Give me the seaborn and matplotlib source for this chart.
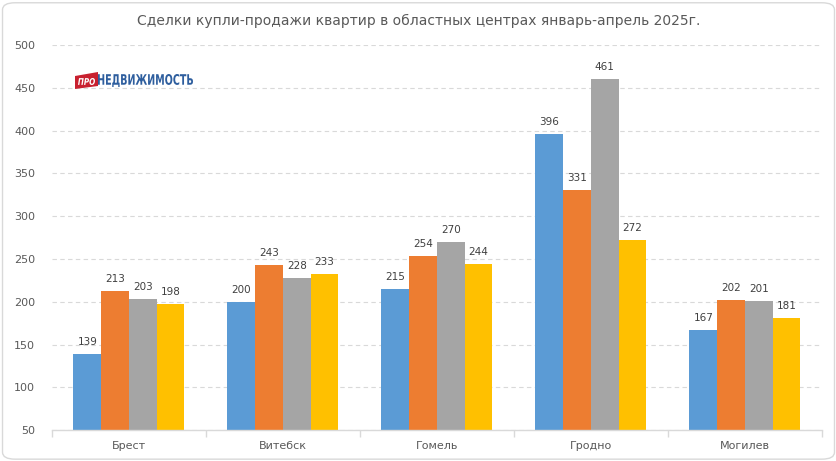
import matplotlib
matplotlib.use("Agg")
import matplotlib.pyplot as plt
import seaborn as sns
import pandas as pd
from matplotlib.patches import FancyBboxPatch, PathPatch, Polygon
from matplotlib.textpath import TextPath
from matplotlib.font_manager import FontProperties
from matplotlib.transforms import Affine2D

cities = ["Брест", "Витебск", "Гомель", "Гродно", "Могилев"]
months = ["Январь", "Февраль", "Март", "Апрель"]
jan = [139, 200, 215, 396, 167]
feb = [213, 243, 254, 331, 202]
mar = [203, 228, 270, 461, 201]
apr = [198, 233, 244, 272, 181]
title = "Сделки купли-продажи квартир в областных центрах январь-апрель 2025г."
yticks = [50, 100, 150, 200, 250, 300, 350, 400, 450, 500]

colors = ["#5B9BD5", "#ED7D31", "#A5A5A5", "#FFC000"]
txt = "#595959"

rows = []
for m, vals in zip(months, [jan, feb, mar, apr]):
    for c, v in zip(cities, vals):
        rows.append({"city": c, "month": m, "value": v})
df = pd.DataFrame(rows)

sns.set_theme(style="white")
plt.rcParams["font.family"] = ["DejaVu Sans"]

W, H = 837, 461
fig = plt.figure(figsize=(W / 100, H / 100), dpi=100)
ax = fig.add_axes([0.062, 0.067, 0.92, 0.835])

sns.barplot(data=df, x="city", y="value", hue="month", order=cities,
            hue_order=months, palette=colors, width=0.72, gap=0,
            saturation=1, ax=ax, legend=False, linewidth=0)

for cont in ax.containers:
    ax.bar_label(cont, padding=5, fontsize=7.5, color="#404040")

ax.set_ylim(50, 500)
ax.set_yticks(yticks)
ax.set_xlim(-0.5, len(cities) - 0.5)
ax.set_xlabel("")
ax.set_ylabel("")
ax.yaxis.grid(True, color="#D9D9D9", linestyle=(0, (4, 3)), linewidth=0.8)
ax.set_axisbelow(True)
for s in ["left", "right", "top"]:
    ax.spines[s].set_visible(False)
ax.spines["bottom"].set_color("#D9D9D9")
ax.spines["bottom"].set_linewidth(1)
ax.tick_params(axis="y", length=0, labelsize=8, colors=txt, pad=12)
ax.tick_params(axis="x", which="major", length=0, labelsize=8, colors=txt, pad=8)
ax.set_xticks([i - 0.5 for i in range(len(cities) + 1)], minor=True)
ax.tick_params(axis="x", which="minor", bottom=True, direction="out",
               length=5, color="#D9D9D9", width=1)

fig.text(0.5, 0.955, title, ha="center", va="center", fontsize=10, color=txt)

# logo (pixel coordinates converted to figure fraction)
px = Affine2D().scale(1 / W, 1 / H) + fig.transFigure


def fit_text(s, x0, y0, x1, y1, color, weight="bold", style="normal"):
    tp = TextPath((0, 0), s, size=1,
                  prop=FontProperties(family="DejaVu Sans", weight=weight, style=style))
    e = tp.get_extents()
    t = (Affine2D().translate(-e.x0, -e.y0)
         .scale((x1 - x0) / e.width, (y1 - y0) / e.height)
         .translate(x0, y0))
    fig.patches.append(PathPatch(t.transform_path(tp), fc=color, ec="none",
                                 transform=px))


red = Polygon([(75, H - 89), (98, H - 86), (98, H - 72), (75, H - 76)],
              closed=True, fc="#C8202F", ec="none", transform=px)
fig.patches.append(red)
fit_text("ПРО", 78, H - 85, 95, H - 78, "white", style="italic")
fit_text("НЕДВИЖИМОСТЬ", 98, H - 87, 193, H - 74, "#2E5E9E")

border = FancyBboxPatch((0.003, 0.004), 0.994, 0.99,
                        boxstyle="round,pad=0,rounding_size=0.015",
                        transform=fig.transFigure, fc="none", ec="#D9D9D9", lw=1)
fig.patches.append(border)

fig.savefig("out.png", dpi=100)
